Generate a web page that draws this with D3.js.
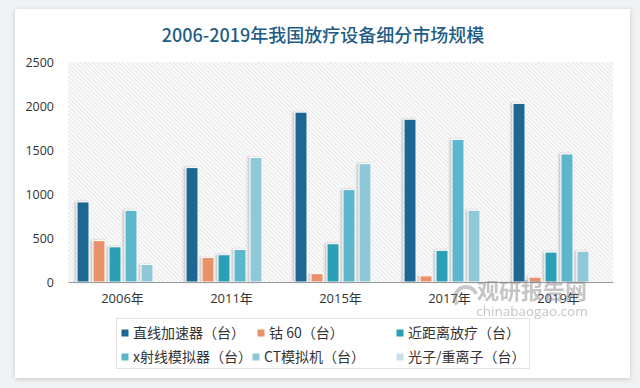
<!DOCTYPE html>
<html>
<head>
<meta charset="utf-8">
<script src="https://cdn.jsdelivr.net/npm/d3@7"></script>
<style>
  body { margin: 0; background: #f1f2f3; }
  svg { display: block; }
</style>
</head>
<body>
<svg id="chart" width="640" height="388"></svg>
<script>
// chart data
const years = ["2006年", "2011年", "2015年", "2017年", "2019年"];
const seriesNames = ["直线加速器（台）", "钴 60（台）", "近距离放疗（台）", "x射线模拟器（台）", "CT模拟机（台）", "光子/重离子（台）"];
const linac = [910, 1300, 1930, 1850, 2030];
const cobalt = [470, 280, 95, 70, 55];
const brachy = [400, 310, 435, 360, 340];
const xray = [815, 370, 1050, 1620, 1455];
const ctSim = [200, 1415, 1345, 815, 350];
const photon = [0, 0, 0, 0, 0];
const yTicks = [0, 500, 1000, 1500, 2000, 2500];
const colors = ["#1b6793", "#e8916a", "#2c9fb6", "#5bb6cc", "#8fc9d9", "#c5e0e8"];

const allSeries = [linac, cobalt, brachy, xray, ctSim, photon];

const svg = d3.select("#chart");
const margin = { top: 62, right: 25, bottom: 106, left: 68 };
const width = 640, height = 388;

const defs = svg.append("defs");
const shadow = defs.append("filter").attr("id", "card-shadow")
  .attr("x", "-5%").attr("y", "-5%").attr("width", "110%").attr("height", "110%");
shadow.append("feDropShadow").attr("dx", 0).attr("dy", 1).attr("stdDeviation", 2.5)
  .attr("flood-color", "#000").attr("flood-opacity", 0.18);

const barShadow = defs.append("filter").attr("id", "bar-shadow")
  .attr("x", "-40%").attr("y", "-5%").attr("width", "180%").attr("height", "110%");
barShadow.append("feDropShadow").attr("dx", -1.5).attr("dy", 0).attr("stdDeviation", 1)
  .attr("flood-color", "#555").attr("flood-opacity", 0.35);

const hatch = defs.append("pattern").attr("id", "hatch")
  .attr("patternUnits", "userSpaceOnUse").attr("width", 3).attr("height", 3)
  .attr("patternTransform", "rotate(-45)");
hatch.append("rect").attr("width", 3).attr("height", 3).attr("fill", "#fbfbfb");
hatch.append("line").attr("x1", 0).attr("y1", 0).attr("x2", 0).attr("y2", 3)
  .attr("stroke", "#d4d4d4").attr("stroke-width", 1);

// card
svg.append("rect")
  .attr("x", 15).attr("y", 9).attr("width", 615).attr("height", 369)
  .attr("fill", "#fff").attr("filter", "url(#card-shadow)");

svg.append("text")
  .attr("x", 323).attr("y", 42)
  .attr("text-anchor", "middle")
  .attr("font-family", "'Noto Sans CJK SC', sans-serif")
  .attr("font-size", 18)
  .attr("font-weight", 500)
  .attr("fill", "#1f5d86")
  .text("2006-2019年我国放疗设备细分市场规模");

const x0 = d3.scaleBand()
  .domain(years)
  .range([margin.left, width - margin.right - 2]);

const x1 = d3.scaleBand()
  .domain(d3.range(seriesNames.length))
  .range([7, 103])
  .paddingInner(0.25)
  .paddingOuter(0.125);

const y = d3.scaleLinear()
  .domain([0, 2500])
  .range([height - margin.bottom, margin.top]);

// hatched plot background
svg.append("rect")
  .attr("x", margin.left).attr("y", y(2500))
  .attr("width", x0.range()[1] - margin.left)
  .attr("height", y(0) - y(2500))
  .attr("fill", "url(#hatch)");

// y axis labels
const yAxis = svg.append("g")
  .attr("transform", `translate(${margin.left - 14},0)`)
  .call(d3.axisLeft(y).tickValues(yTicks).tickFormat(d3.format("d")).tickSize(0).tickPadding(0));
yAxis.select(".domain").remove();
yAxis.selectAll("text")
  .attr("font-family", "'Open Sans', sans-serif")
  .attr("font-size", 12.5)
  .attr("fill", "#333");

// bars
const groups = svg.append("g").selectAll("g")
  .data(years)
  .join("g")
  .attr("transform", d => `translate(${x0(d)},0)`);

groups.selectAll("rect")
  .data((d, i) => allSeries.map((s, k) => ({ k, v: s[i] })))
  .join("rect")
  .filter(d => d.v > 0)
  .attr("x", d => x1(d.k))
  .attr("y", d => y(d.v))
  .attr("width", x1.bandwidth())
  .attr("height", d => y(0) - y(d.v))
  .attr("fill", d => colors[d.k])
  .attr("stroke", "#fff")
  .attr("stroke-width", 1)
  .attr("filter", "url(#bar-shadow)");

// x axis
const xAxis = svg.append("g")
  .attr("transform", `translate(0,${y(0)})`)
  .call(d3.axisBottom(x0).tickSize(0).tickPadding(12));
xAxis.select(".domain").attr("stroke", "#9a9a9a").attr("stroke-width", 1.2);
xAxis.selectAll("text")
  .attr("font-family", "'Open Sans', 'Noto Sans CJK SC', sans-serif")
  .attr("font-size", 13)
  .attr("fill", "#333");

// watermark
svg.append("text")
  .attr("x", 532).attr("y", 299)
  .attr("text-anchor", "middle")
  .attr("font-family", "'Noto Sans CJK SC', sans-serif")
  .attr("font-size", 22).attr("font-weight", 700)
  .attr("fill", "#8a8a8a").attr("opacity", 0.5)
  .text("观研报告网");
svg.append("text")
  .attr("x", 532).attr("y", 316)
  .attr("text-anchor", "middle")
  .attr("font-family", "'Open Sans', sans-serif")
  .attr("font-size", 13.5)
  .attr("fill", "#8a8a8a").attr("opacity", 0.5)
  .text("chinabaogao.com");
svg.append("path")
  .attr("d", d3.arc()({ innerRadius: 9, outerRadius: 13, startAngle: -2.2, endAngle: 1.2 }))
  .attr("transform", "translate(466,298)")
  .attr("fill", "#8a8a8a").attr("opacity", 0.45);

// legend
svg.append("rect")
  .attr("x", 116.5).attr("y", 318.5).attr("width", 413).attr("height", 50)
  .attr("fill", "#fff").attr("stroke", "#e2e2e2");

const legendPos = [[125, 333], [261, 333], [400, 333], [125, 357], [256, 357], [400, 357]];
const legend = svg.append("g").selectAll("g")
  .data(seriesNames)
  .join("g")
  .attr("transform", (d, i) => `translate(${legendPos[i][0]},${legendPos[i][1]})`);
legend.append("rect")
  .attr("x", -3.5).attr("y", -3.5).attr("width", 7).attr("height", 7)
  .attr("fill", (d, i) => colors[i]);
legend.append("text")
  .attr("x", 8).attr("dy", "0.36em")
  .attr("font-family", "'Noto Sans CJK SC', sans-serif")
  .attr("font-size", 14)
  .attr("fill", "#333")
  .text(d => d);
</script>
</body>
</html>
